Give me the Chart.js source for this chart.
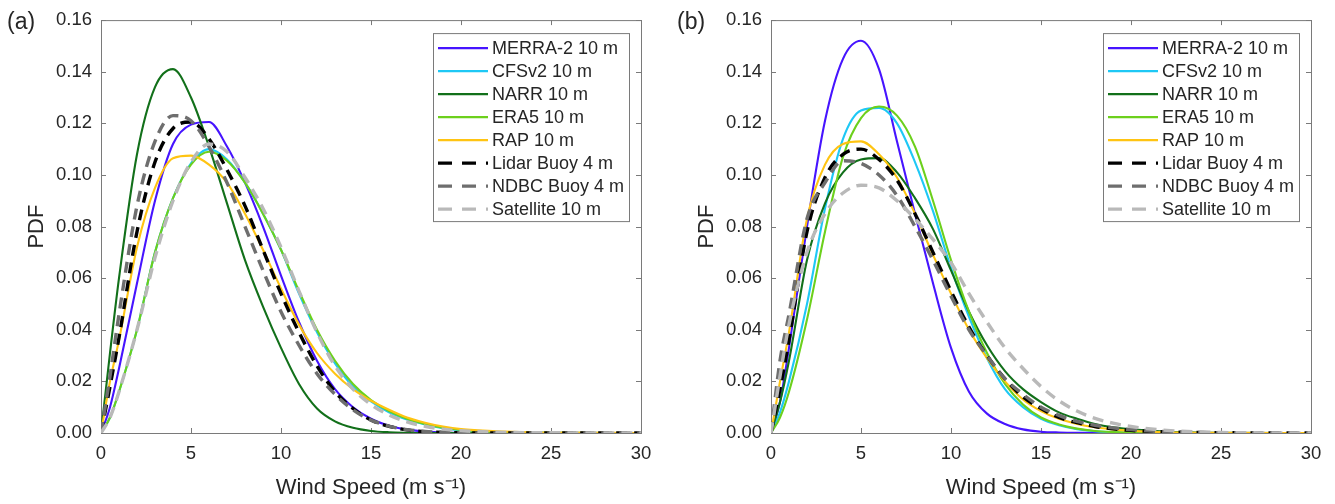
<!DOCTYPE html>
<html>
<head>
<meta charset="utf-8">
<title>Wind speed PDF</title>
<script src="https://cdn.jsdelivr.net/npm/chart.js@4.4.0/dist/chart.umd.min.js"></script>
<style>
  html, body { margin: 0; padding: 0; background: #fff; }
  #wrap { position: relative; width: 1335px; height: 504px; overflow: hidden; }
  canvas { position: absolute; top: 0; }
  #chartA { left: 0; }
  #chartB { left: 670px; }
</style>
</head>
<body>
<div id="wrap">
  <canvas id="chartA" width="670" height="504"></canvas>
  <canvas id="chartB" width="665" height="504"></canvas>
</div>
<script>
// wind speed grid (m/s) the curves were read at
var windSpeed = [0, 0.5, 1, 2, 3, 4, 5, 6, 7, 8, 9, 10, 11, 12, 13, 14, 15, 16, 17, 18, 19, 20, 22, 25, 30];

var seriesNames = ['MERRA-2 10 m', 'CFSv2 10 m', 'NARR 10 m', 'ERA5 10 m', 'RAP 10 m',
                   'Lidar Buoy 4 m', 'NDBC Buoy 4 m', 'Satellite 10 m'];

var xTickValues = [0, 5, 10, 15, 20, 25, 30];
var yTickValues = [0, 0.02, 0.04, 0.06, 0.08, 0.10, 0.12, 0.14, 0.16];

// panel (a)
var merra2A    = [0, 0.010, 0.025, 0.058, 0.090, 0.112, 0.1195, 0.1205, 0.111, 0.097, 0.080, 0.061, 0.043, 0.028, 0.017, 0.010, 0.0055, 0.0028, 0.0013, 0.0006, 0.0002, 0.0001, 0, 0, 0];
var cfsv2A     = [0, 0.006, 0.016, 0.040, 0.070, 0.091, 0.1045, 0.110, 0.106, 0.097, 0.085, 0.071, 0.054, 0.039, 0.027, 0.018, 0.0122, 0.008, 0.0052, 0.0033, 0.0019, 0.0011, 0.0004, 0.0001, 0];
var narrA      = [0, 0.031, 0.060, 0.108, 0.134, 0.141, 0.130, 0.111, 0.089, 0.067, 0.049, 0.033, 0.019, 0.0095, 0.0045, 0.002, 0.0008, 0.0003, 0.0001, 0, 0, 0, 0, 0, 0];
var era5A      = [0, 0.006, 0.016, 0.040, 0.070, 0.091, 0.104, 0.109, 0.1055, 0.097, 0.085, 0.071, 0.055, 0.040, 0.028, 0.019, 0.0128, 0.0085, 0.0055, 0.0035, 0.002, 0.0012, 0.0004, 0.0001, 0];
var rapA       = [0, 0.020, 0.036, 0.072, 0.095, 0.1065, 0.1075, 0.104, 0.097, 0.085, 0.071, 0.056, 0.042, 0.031, 0.023, 0.017, 0.0125, 0.009, 0.006, 0.004, 0.0025, 0.0015, 0.0007, 0.0002, 0];
var lidarA     = [0, 0.018, 0.037, 0.078, 0.105, 0.118, 0.1205, 0.114, 0.102, 0.088, 0.071, 0.054, 0.039, 0.026, 0.016, 0.0095, 0.005, 0.0026, 0.0012, 0.0005, 0.0002, 0.0001, 0, 0, 0];
var ndbcA      = [0, 0.022, 0.046, 0.088, 0.113, 0.123, 0.121, 0.111, 0.097, 0.080, 0.063, 0.047, 0.034, 0.023, 0.015, 0.009, 0.005, 0.0027, 0.0013, 0.0006, 0.0003, 0.0001, 0, 0, 0];
var satelliteA = [0, 0.006, 0.016, 0.040, 0.068, 0.090, 0.105, 0.112, 0.109, 0.099, 0.087, 0.072, 0.055, 0.039, 0.026, 0.017, 0.011, 0.007, 0.0043, 0.0026, 0.0015, 0.0009, 0.0003, 0.0001, 0];

// panel (b)
var merra2B    = [0, 0.012, 0.033, 0.080, 0.121, 0.145, 0.152, 0.141, 0.113, 0.085, 0.058, 0.033, 0.016, 0.0075, 0.0035, 0.0014, 0.0005, 0.0002, 0.0001, 0, 0, 0, 0, 0, 0];
var cfsv2B     = [0, 0.008, 0.020, 0.050, 0.087, 0.114, 0.125, 0.126, 0.120, 0.105, 0.086, 0.064, 0.045, 0.029, 0.017, 0.010, 0.0055, 0.003, 0.0015, 0.0007, 0.0003, 0.0001, 0, 0, 0];
var narrB      = [0, 0.012, 0.028, 0.067, 0.089, 0.101, 0.106, 0.1065, 0.101, 0.091, 0.079, 0.063, 0.047, 0.034, 0.024, 0.017, 0.012, 0.008, 0.0055, 0.0035, 0.0022, 0.0014, 0.0005, 0.0001, 0];
var era5B      = [0, 0.006, 0.016, 0.044, 0.078, 0.107, 0.122, 0.1265, 0.123, 0.111, 0.090, 0.067, 0.047, 0.031, 0.019, 0.011, 0.006, 0.0033, 0.0017, 0.0008, 0.0004, 0.0002, 0.0001, 0, 0];
var rapB       = [0, 0.020, 0.039, 0.083, 0.104, 0.112, 0.113, 0.108, 0.099, 0.085, 0.069, 0.054, 0.040, 0.029, 0.020, 0.013, 0.0085, 0.0055, 0.0035, 0.0022, 0.0014, 0.0009, 0.0003, 0.0001, 0];
var lidarB     = [0, 0.017, 0.036, 0.078, 0.099, 0.108, 0.110, 0.106, 0.098, 0.085, 0.070, 0.055, 0.041, 0.030, 0.021, 0.014, 0.0095, 0.006, 0.004, 0.0025, 0.0016, 0.001, 0.0004, 0.0001, 0];
var ndbcB      = [0, 0.028, 0.046, 0.083, 0.097, 0.1055, 0.1045, 0.100, 0.092, 0.080, 0.067, 0.053, 0.040, 0.030, 0.021, 0.015, 0.010, 0.0068, 0.0045, 0.003, 0.002, 0.0013, 0.0005, 0.0001, 0];
var satelliteB = [0, 0.022, 0.042, 0.070, 0.085, 0.093, 0.096, 0.095, 0.090, 0.083, 0.075, 0.066, 0.054, 0.043, 0.033, 0.025, 0.018, 0.0125, 0.0085, 0.0057, 0.0038, 0.0025, 0.001, 0.0002, 0];

// line styles, same order as seriesNames
var seriesColors = ['#4614ff', '#1ec8f5', '#12701a', '#6cd01c', '#ffc412', '#000000', '#6e6e6e', '#b9b9b9'];
var seriesDashed = [false, false, false, false, false, true, true, true];

var FONT = "'Liberation Sans', Arial, sans-serif";
var TEXT = '#262626';
var AXIS = '#7a7a7a';

function toPoints(values) {
  return windSpeed.map(function(x, i) { return { x: x, y: values[i] }; });
}

function buildDatasets(list) {
  return list.map(function(values, i) {
    var dashed = seriesDashed[i];
    return {
      label: seriesNames[i],
      data: toPoints(values),
      borderColor: seriesColors[i],
      borderWidth: dashed ? 3.4 : 2.1,
      borderDash: dashed ? [11, 7] : [],
      pointRadius: 0,
      fill: false,
      cubicInterpolationMode: 'monotone',
      order: list.length - i   // later series on top, like MATLAB
    };
  });
}

// box, inward ticks, legend and panel letter
var matlabLook = {
  id: 'matlabLook',
  beforeDatasetsDraw: function(chart) {
    var ctx = chart.ctx, a = chart.chartArea;
    var xs = chart.scales.x, ys = chart.scales.y;
    ctx.save();
    ctx.strokeStyle = AXIS;
    ctx.lineWidth = 1;
    ctx.strokeRect(a.left + 0.5, a.top + 0.5, a.right - a.left, a.bottom - a.top);
    ctx.beginPath();
    xTickValues.forEach(function(v) {
      var px = Math.round(xs.getPixelForValue(v)) + 0.5;
      ctx.moveTo(px, a.bottom); ctx.lineTo(px, a.bottom - 5);
      ctx.moveTo(px, a.top); ctx.lineTo(px, a.top + 5);
    });
    yTickValues.forEach(function(v) {
      var py = Math.round(ys.getPixelForValue(v)) + 0.5;
      ctx.moveTo(a.left, py); ctx.lineTo(a.left + 5, py);
      ctx.moveTo(a.right, py); ctx.lineTo(a.right - 5, py);
    });
    ctx.stroke();
    ctx.restore();
  },
  afterDatasetsDraw: function(chart) {
    var ctx = chart.ctx, a = chart.chartArea;
    var bx = a.left + 332, by = a.top + 13, bw = 196, bh = 188;
    ctx.save();
    ctx.fillStyle = '#fff';
    ctx.fillRect(bx, by, bw, bh);
    ctx.strokeStyle = AXIS;
    ctx.lineWidth = 1;
    ctx.strokeRect(bx + 0.5, by + 0.5, bw, bh);
    ctx.font = '18px ' + FONT;
    ctx.textBaseline = 'middle';
    ctx.fillStyle = TEXT;
    chart.data.datasets.forEach(function(ds, i) {
      var cy = by + 15 + i * 23;
      ctx.beginPath();
      ctx.strokeStyle = ds.borderColor;
      ctx.lineWidth = ds.borderWidth;
      ctx.setLineDash(seriesDashed[i] ? [14, 10] : []);
      ctx.moveTo(bx + 5, cy);
      ctx.lineTo(bx + 55, cy);
      ctx.stroke();
      ctx.setLineDash([]);
      ctx.fillText(ds.label, bx + 59, cy + 1);
    });
    ctx.restore();
  },
  afterDraw: function(chart) {
    var ctx = chart.ctx;
    ctx.save();
    ctx.font = '23px ' + FONT;
    ctx.fillStyle = TEXT;
    ctx.textBaseline = 'middle';
    ctx.fillText(chart.options.plugins.matlabLook.letter, 7, 23);
    ctx.restore();
  }
};

function makeChart(id, letter, series, rightPad) {
  return new Chart(document.getElementById(id), {
    type: 'line',
    data: { datasets: buildDatasets(series) },
    plugins: [matlabLook],
    options: {
      responsive: false,
      devicePixelRatio: 1,
      animation: false,
      layout: { padding: { left: 0, right: rightPad, top: 17, bottom: 0 } },
      plugins: {
        legend: { display: false },
        tooltip: { enabled: false },
        matlabLook: { letter: letter }
      },
      scales: {
        x: {
          type: 'linear',
          min: 0,
          max: 30,
          afterBuildTicks: function(scale) {
            scale.ticks = xTickValues.map(function(v) { return { value: v }; });
          },
          afterFit: function(scale) { scale.height = 71; },
          grid: { display: false, drawTicks: false },
          border: { display: false },
          ticks: { color: TEXT, font: { family: FONT, size: 18.5 }, padding: 10, maxRotation: 0 },
          title: {
            display: true,
            text: 'Wind Speed (m s\u207B\u00B9)',
            color: TEXT,
            font: { family: FONT, size: 22 },
            padding: { top: 0, bottom: 3 }
          }
        },
        y: {
          min: 0,
          max: 0.16,
          afterBuildTicks: function(scale) {
            scale.ticks = yTickValues.map(function(v) { return { value: v }; });
          },
          afterFit: function(scale) { scale.width = 101; },
          grid: { display: false, drawTicks: false },
          border: { display: false },
          ticks: {
            color: TEXT,
            font: { family: FONT, size: 18.5 },
            padding: 9,
            callback: function(v) { return Number(v).toFixed(2); }
          },
          title: {
            display: true,
            text: 'PDF',
            color: TEXT,
            font: { family: FONT, size: 22 },
            padding: { top: 24, bottom: 0 }
          }
        }
      }
    }
  });
}

makeChart('chartA', '(a)', [merra2A, cfsv2A, narrA, era5A, rapA, lidarA, ndbcA, satelliteA], 29);
makeChart('chartB', '(b)', [merra2B, cfsv2B, narrB, era5B, rapB, lidarB, ndbcB, satelliteB], 24);
</script>
</body>
</html>
